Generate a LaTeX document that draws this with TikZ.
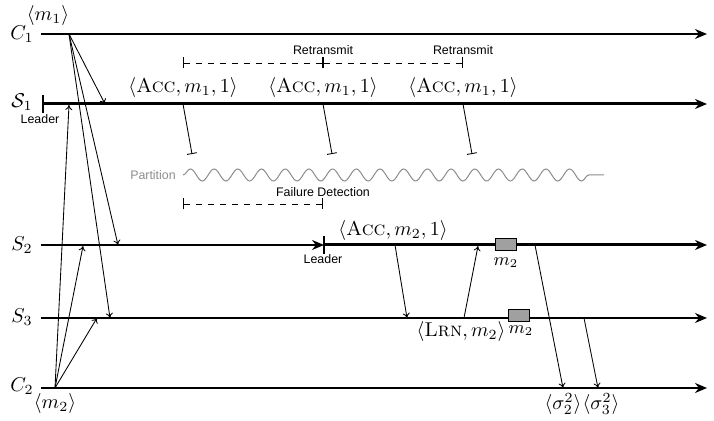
\documentclass[tikz,border=0pt]{standalone}
\usepackage{fontspec}
\setsansfont{Liberation Sans}
\usetikzlibrary{arrows.meta,decorations.pathmorphing}
\definecolor{partgray}{HTML}{8C8C8C}
\definecolor{boxgray}{HTML}{A0A0A0}
\begin{document}
\begin{tikzpicture}[x=0.5pt,y=-0.5pt,
  tl/.style={line width=0.85pt,-{Stealth[length=6pt,width=5pt]}},
  tlthick/.style={line width=1.5pt,-{Stealth[length=6pt,width=5pt]}},
  tlthin/.style={line width=0.6pt,-{Stealth[length=6pt,width=5pt]}},
  msg/.style={line width=0.43pt,-{To[length=2.5pt,width=3.5pt]}},
  blk/.style={line width=0.43pt,-{Bar[width=5pt]}},
  leaderbar/.style={line width=1.35pt},
  span/.style={dashed,line width=0.43pt,{Bar[width=5.5pt]}-{Bar[width=5.5pt]}},
  lbl/.style={inner sep=0pt},
  sflbl/.style={font=\sffamily\fontsize{6.2}{7}\selectfont,inner sep=0pt},
  mbox/.style={draw,fill=boxgray,line width=0.5pt,minimum width=10.5pt,minimum height=6pt,inner sep=0pt},
 ]
\useasboundingbox (0,0) rectangle (714,421);

% timeline end points
\coordinate (c1s) at (41,34);   \coordinate (c1e) at (707,34);
\coordinate (s1s) at (43,104);  \coordinate (s1e) at (707,104);
\coordinate (s2s) at (41,245);  \coordinate (s2l) at (324,245); \coordinate (s2e) at (707,245);
\coordinate (s3s) at (41,318);  \coordinate (s3e) at (707,318);
\coordinate (c2s) at (41,388);  \coordinate (c2e) at (707,388);

\draw[tl] (c1s) -- (c1e);
\draw[tlthick] (s1s) -- (s1e);
\draw[tlthin] (s2s) -- (s2l);
\draw[tlthick] (s2l) -- (s2e);
\draw[tlthin] (s3s) -- (s3e);
\draw[tl] (c2s) -- (c2e);

% process labels
\node[lbl] (lc1) at (22,34) {$C_1$};
\node[lbl] (ls1) at (22,102) {$\mathcal{S}_1$};
\node[lbl] (ls2) at (22,245) {$S_2$};
\node[lbl] (ls3) at (22,317) {$S_3$};
\node[lbl] (lc2) at (22,386) {$C_2$};

% leaders
\coordinate (ld1a) at (43,95); \coordinate (ld1b) at (43,113);
\draw[leaderbar] (ld1a) -- (ld1b);
\node[sflbl] (leader1) at (40,119) {Leader};
\coordinate (ld2a) at (324,236); \coordinate (ld2b) at (324,254);
\draw[leaderbar] (ld2a) -- (ld2b);
\node[sflbl] (leader2) at (323,259) {Leader};

% client 1 requests
\node[lbl] (m1) at (48,16) {$\langle m_1\rangle$};
\coordinate (m1src) at (69,34);
\coordinate (m1s1) at (105,104);
\coordinate (m1s2) at (118,245);
\coordinate (m1s3) at (110,318);
\draw[msg] (m1src) -- (m1s1);
\draw[msg] (m1src) -- (m1s2);
\draw[msg] (m1src) -- (m1s3);

% client 2 requests
\node[lbl] (m2) at (55,404) {$\langle m_2\rangle$};
\coordinate (m2src) at (55,388);
\coordinate (m2s1) at (69,105);
\coordinate (m2s2) at (83,246);
\coordinate (m2s3) at (97,318);
\draw[msg] (m2src) -- (m2s1);
\draw[msg] (m2src) -- (m2s2);
\draw[msg] (m2src) -- (m2s3);

% retransmissions
\coordinate (r0) at (183,63); \coordinate (r1) at (323,63); \coordinate (r2) at (463,63);
\draw[span] (r0) -- (r1);
\draw[span] (r1) -- (r2);
\node[sflbl] (rt1) at (323,50) {Retransmit};
\node[sflbl] (rt2) at (463,50) {Retransmit};

\foreach \x [count=\i] in {183,323,463}{
  \node[lbl] (acc\i) at (\x,88) {$\langle\textsc{Acc}, m_1, 1\rangle$};
  \coordinate (accs\i) at (\x,104);
  \coordinate (acce\i) at (\x+9,154);
  \draw[blk] (accs\i) -- (acce\i);
}

% partition
\node[font=\sffamily\fontsize{6.2}{7}\selectfont,text=partgray,inner sep=0pt] (part) at (153,175) {Partition};
\coordinate (pa) at (183,175); \coordinate (pb) at (604,175);
\draw[partgray,line width=0.5pt,decorate,decoration={snake,amplitude=3pt,segment length=11.85pt,post length=6.5pt}] (pa) -- (pb);

% failure detection
\coordinate (fd0) at (183,204); \coordinate (fd1) at (323,204);
\draw[span] (fd0) -- (fd1);
\node[sflbl] (fdl) at (323,192) {Failure Detection};

% new leader S2
\node[lbl] (acc2m) at (393,231) {$\langle\textsc{Acc}, m_2, 1\rangle$};
\coordinate (a2s) at (395,245); \coordinate (a2e) at (407,318);
\draw[msg] (a2s) -- (a2e);
\coordinate (l3s) at (464,318); \coordinate (l3e) at (478,246);
\draw[msg] (l3s) -- (l3e);
\node[lbl] (lrn) at (461,332) {$\langle\textsc{Lrn}, m_2\rangle$};

\node[mbox] (bx2) at (506,245) {};
\node[lbl,font=\small] (bx2l) at (506,263) {$m_2$};
\node[mbox] (bx3) at (519,316) {};
\node[lbl,font=\small] (bx3l) at (521,331) {$m_2$};

\coordinate (o2s) at (535,245); \coordinate (o2e) at (563,388);
\draw[msg] (o2s) -- (o2e);
\coordinate (o3s) at (584,318); \coordinate (o3e) at (598,388);
\draw[msg] (o3s) -- (o3e);
\node[lbl] (sg2) at (563,404) {$\langle\sigma_2^2\rangle$};
\node[lbl] (sg3) at (601,404) {$\langle\sigma_3^2\rangle$};
\end{tikzpicture}
\end{document}
